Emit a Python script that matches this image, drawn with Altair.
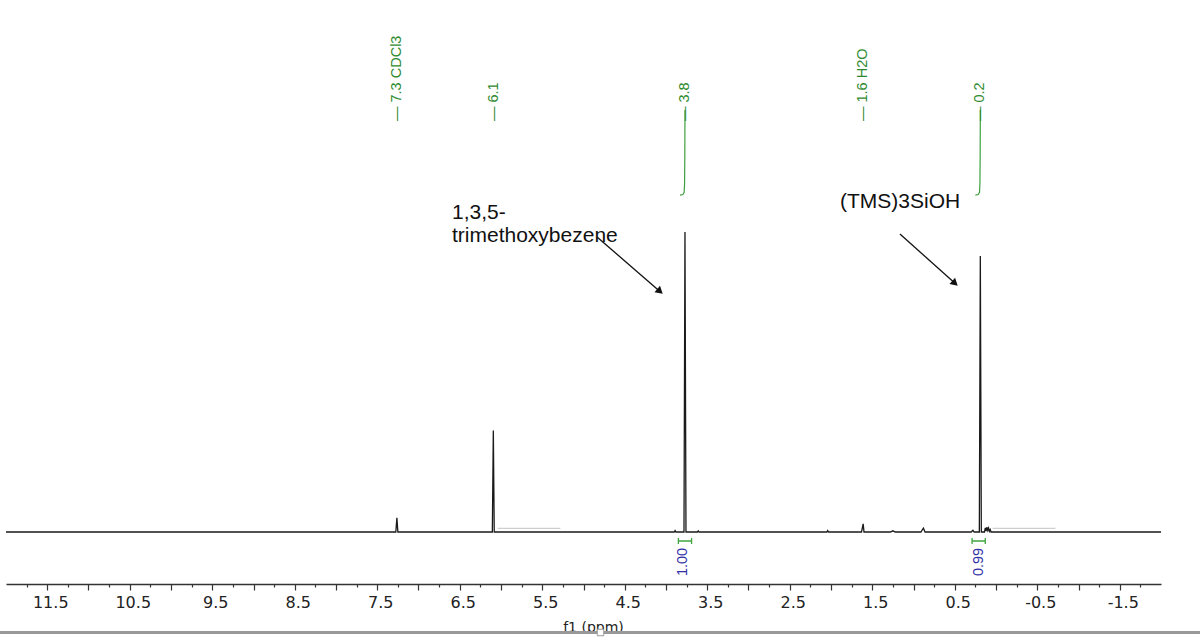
import altair as alt
import pandas as pd

# ---------------- data ----------------
# spectrum trace (ppm, intensity; 100 = 3.77 ppm peak)
spec_ppm = [12.0, 7.30, 7.275, 7.262, 7.25, 6.12, 6.105, 6.093, 6.082,
            3.90, 3.89, 3.88, 3.782, 3.770, 3.758, 3.62, 3.61, 3.60,
            2.05, 2.04, 2.03, 1.63, 1.61, 1.60, 1.28, 1.25, 1.22,
            0.91, 0.88, 0.86, 0.30, 0.28, 0.265, 0.202, 0.190, 0.178,
            0.14, 0.13, 0.12, 0.11, 0.10, 0.09, 0.08, 0.07, 0.06, -2.0]
spec_int = [0, 0, 0, 4.7, 0, 0, 0, 33.8, 0,
            0, 0.5, 0, 0, 100, 0, 0, 0.4, 0,
            0, 0.5, 0, 0, 2.7, 0, 0, 0.4, 0,
            0, 1.3, 0, 0, 0.6, 0, 0, 92, 0,
            0, 1.4, 0.3, 1.6, 0.5, 1.3, 0.2, 0.8, 0, 0]

# integral curves
int1_ppm = [3.83, 3.795, 3.78, 3.775, 3.772, 3.77]
int1_val = [112.3, 112.5, 113.2, 116, 125, 140.7]
int2_ppm = [0.25, 0.215, 0.20, 0.195, 0.192, 0.19]
int2_val = [112.3, 112.5, 113.2, 116, 125, 140.7]

# peak labels (green, on top)
peak_ppm = [7.26, 6.09, 3.77, 1.61, 0.19]
peak_text = ["— 7.3 CDCl3", "— 6.1", "— 3.8", "— 1.6 H2O", "— 0.2"]
peak_label_v = 137

# integral values (blue, below baseline)
integ_ppm = [3.79, 0.205]
integ_text = ["1.00", "0.99"]
integ_v = -10
bracket_from = [3.85, 0.29]
bracket_to = [3.69, 0.13]
bracket_v = -3

# faint grey segments next to peaks
seg_from = [6.04, 0.04]
seg_to = [5.28, -0.72]
seg_v = 1.2

# annotations
ann_ppm = [6.594, 6.594, 1.891]
ann_v = [104.3, 96.7, 108.0]
ann_text = ["1,3,5-", "trimethoxybezene", "(TMS)3SiOH"]
arrow_ppm1 = [4.836, 1.164]
arrow_v1 = [98.33, 99.33]
arrow_ppm2 = [4.073, 0.497]
arrow_v2 = [80.2, 82.9]
arrow_angle = [131, 132]

# axis ticks
major_ticks = [11.5, 11.0, 10.5, 10.0, 9.5, 9.0, 8.5, 8.0, 7.5, 7.0, 6.5, 6.0,
               5.5, 5.0, 4.5, 4.0, 3.5, 3.0, 2.5, 2.0, 1.5, 1.0, 0.5, 0.0,
               -0.5, -1.0, -1.5]
minor_ticks = [11.75, 11.25, 10.75, 10.25, 9.75, 9.25, 8.75, 8.25, 7.75, 7.25,
               6.75, 6.25, 5.75, 5.25, 4.75, 4.25, 3.75, 3.25, 2.75, 2.25,
               1.75, 1.25, 0.75, 0.25, -0.25, -0.75, -1.25, -1.75]

# ---------------- tables ----------------
spec = pd.DataFrame({"ppm": spec_ppm, "v": spec_int, "order": list(range(len(spec_ppm)))})
int1 = pd.DataFrame({"ppm": int1_ppm, "v": int1_val, "order": list(range(len(int1_ppm)))})
int2 = pd.DataFrame({"ppm": int2_ppm, "v": int2_val, "order": list(range(len(int2_ppm)))})
peaks = pd.DataFrame({"ppm": peak_ppm, "t": peak_text, "v": [peak_label_v] * len(peak_ppm)})
integ = pd.DataFrame({"ppm": integ_ppm, "t": integ_text, "v": [integ_v] * len(integ_ppm)})
brackets = pd.DataFrame({"ppm": bracket_from, "ppm2": bracket_to, "v": [bracket_v] * 2})
caps = pd.DataFrame({"ppm": bracket_from + bracket_to,
                     "v": [bracket_v - 1.0] * 4, "v2": [bracket_v + 1.0] * 4})
segs = pd.DataFrame({"ppm": seg_from, "ppm2": seg_to, "v": [seg_v] * 2})
ann = pd.DataFrame({"ppm": ann_ppm, "v": ann_v, "t": ann_text})
arrows = pd.DataFrame({"ppm": arrow_ppm1, "v": arrow_v1, "ppm2": arrow_ppm2, "v2": arrow_v2})
heads = pd.DataFrame({"ppm": arrow_ppm2, "v": arrow_v2, "a": arrow_angle})

GREEN = "#2f8a2f"
GREEN2 = "#3f9f3f"
BLUE = "#2f2fa8"

xscale = alt.Scale(domain=[-2, 12], reverse=True, nice=False, zero=False)
yscale = alt.Scale(domain=[-17.333, 177.333], nice=False, zero=False)

xaxis = alt.Axis(
    values=major_ticks + minor_ticks,
    labelExpr="abs(datum.value % 1) == 0.5 ? toString(datum.value) : ''",
    tickSize={"condition": {"test": "datum.value % 0.5 == 0", "value": 6}, "value": 3},
    tickColor="#333", tickWidth=1.2, domainColor="#333", domainWidth=1.5,
    labelFont="DejaVu Sans", labelFontSize=16, labelColor="#222",
    labelPadding=4, labelOffset=3, labelFlush=False, labelOverlap=False,
    grid=False, title="f1 (ppm)", titleFont="DejaVu Sans", titleFontSize=14,
    titleFontWeight="normal", titleColor="#222", titleX=587, titleY=47,
    titleBaseline="alphabetic", titleAlign="center",
)

X = alt.X("ppm:Q", scale=xscale, axis=xaxis)
Y = alt.Y("v:Q", scale=yscale, axis=None)

spectrum = alt.Chart(spec).mark_line(color="#1a1a1a", strokeWidth=1.3).encode(
    x=X, y=Y, order="order:Q")

segments = alt.Chart(segs).mark_rule(color="#cfcfcf", strokeWidth=1.2).encode(
    x=X, x2="ppm2:Q", y=Y)

integral1 = alt.Chart(int1).mark_line(color=GREEN2, strokeWidth=1.2).encode(
    x=X, y=Y, order="order:Q")
integral2 = alt.Chart(int2).mark_line(color=GREEN2, strokeWidth=1.2).encode(
    x=X, y=Y, order="order:Q")

peak_labels = alt.Chart(peaks).mark_text(
    angle=270, align="left", baseline="middle", font="Liberation Sans",
    fontSize=14.5, color=GREEN).encode(x=X, y=Y, text="t:N")

bracket_rules = alt.Chart(brackets).mark_rule(color="#3fa63f", strokeWidth=1.5).encode(
    x=X, x2="ppm2:Q", y=Y)
cap_rules = alt.Chart(caps).mark_rule(color="#3fa63f", strokeWidth=1.3).encode(
    x=X, y=Y, y2="v2:Q")

integ_labels = alt.Chart(integ).mark_text(
    angle=270, align="center", baseline="middle", font="Liberation Sans",
    fontSize=14.5, color=BLUE).encode(x=X, y=Y, text="t:N")

ann_text_layer = alt.Chart(ann).mark_text(
    align="left", baseline="alphabetic", font="Liberation Sans",
    fontSize=21, color="#111").encode(x=X, y=Y, text="t:N")

arrow_lines = alt.Chart(arrows).mark_rule(color="#111", strokeWidth=1.3).encode(
    x=X, y=Y, x2="ppm2:Q", y2="v2:Q")

arrow_heads = alt.Chart(heads).mark_point(
    shape="triangle-up", filled=True, size=70, color="#111", opacity=1).encode(
    x=X, y=Y, angle=alt.Angle("a:Q", scale=None))

cover = alt.Chart(spec).mark_rule(color="white", strokeWidth=10).encode(
    x=alt.value(-6), x2=alt.value(1194), y=alt.value(638))
bottom_line = alt.Chart(spec).mark_rule(color="#999", strokeWidth=1.5).encode(
    x=alt.value(-6), x2=alt.value(1194), y=alt.value(632.5))
handle = alt.Chart(pd.DataFrame({"k": [0]})).mark_square(
    size=42, fill="white", stroke="#999", strokeWidth=1, opacity=1).encode(
    x=alt.value(594.5), y=alt.value(632.5))

chart = alt.layer(
    segments, spectrum, integral1, integral2, peak_labels,
    bracket_rules, cap_rules, integ_labels, ann_text_layer,
    arrow_lines, arrow_heads, cover, bottom_line, handle,
).properties(
    width=1155, height=584,
    padding={"left": 6, "top": 0, "right": 39, "bottom": 59},
    autosize="none", background="white",
).configure_view(stroke=None)

chart.save("out.html", embed_options={"renderer": "svg", "actions": False})
